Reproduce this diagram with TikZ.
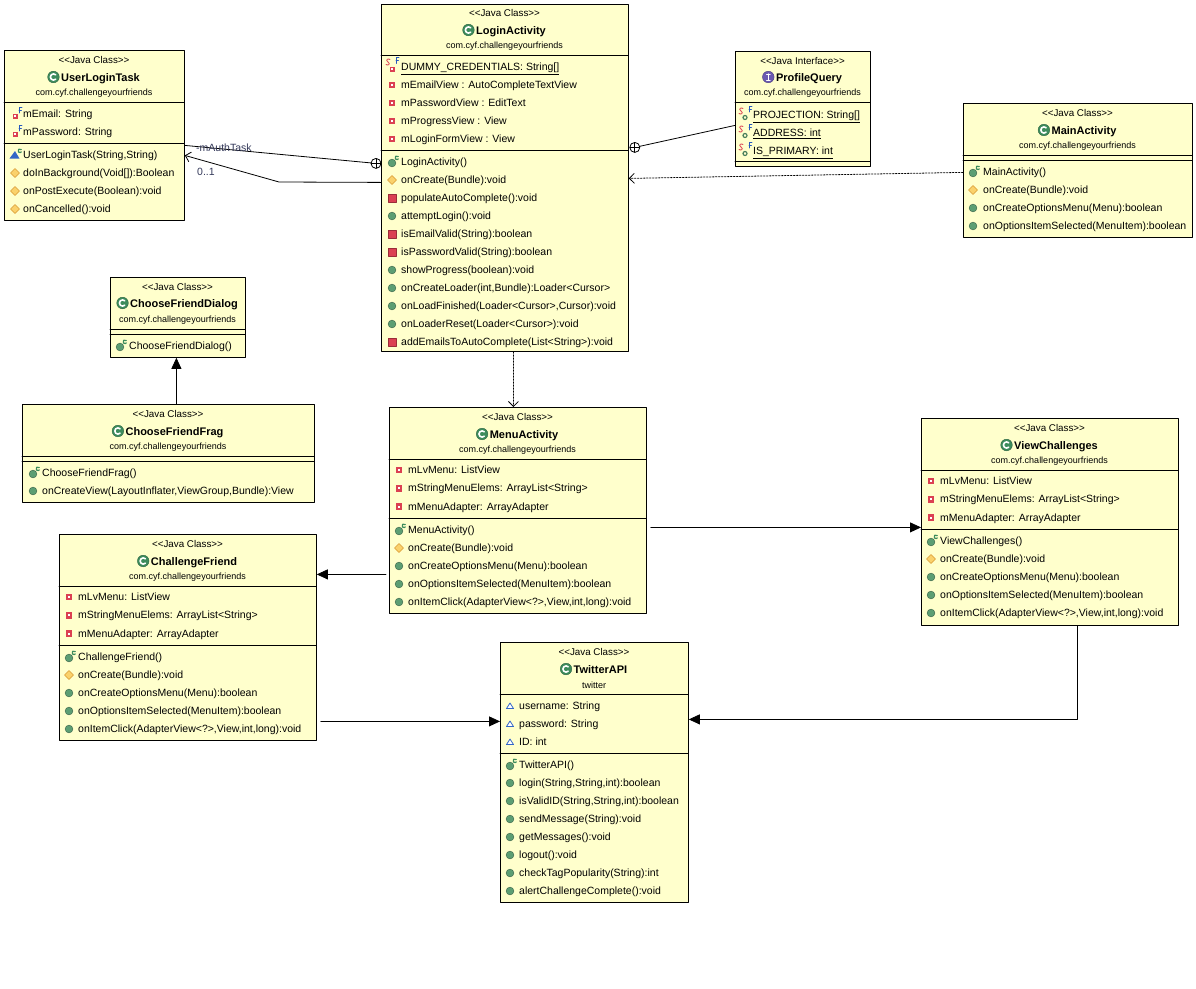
\documentclass[tikz,border=0pt]{standalone}
\usepackage{fontspec}
\setmainfont{Liberation Sans}[Ligatures=TeXOff]
\usetikzlibrary{arrows.meta,positioning}
\definecolor{classfill}{rgb}{1,1,0.8}
\definecolor{clsgreen}{rgb}{0.24,0.55,0.36}
\definecolor{pubgreen}{rgb}{0.36,0.62,0.45}
\definecolor{privred}{rgb}{0.86,0.25,0.32}
\definecolor{protyellow}{rgb}{0.98,0.82,0.42}
\definecolor{protorange}{rgb}{0.85,0.6,0.2}
\definecolor{pkgblue}{rgb}{0.2,0.4,0.78}
\definecolor{intpurp}{rgb}{0.42,0.35,0.7}
\definecolor{finblue}{rgb}{0.15,0.35,0.75}
\definecolor{labelgrey}{rgb}{0.2,0.22,0.35}

% member icons, #1 = where
\newcommand{\letterS}[1]{\draw[privred, line width=0.8pt, shift={(#1)}] (2,-2.5) .. controls (0,-4) and (-3,-2) .. (0,0) .. controls (3,2) and (0,4) .. (-2,2.5);}
\newcommand{\letterF}[1]{\draw[finblue, line width=0.8pt, shift={(#1)}] (0,3) -- (0,-3) -- (3,-3) (0,0) -- (2.5,0);}
\newcommand{\icoclass}[1]{\begin{scope}[shift={(#1)}]
  \fill[clsgreen, draw=clsgreen!70!black, line width=0.4pt] (0,0) circle (5.8pt);
  \draw[white, line width=1.6pt] (2.2,-2.2) arc (45:315:3.1pt);
\end{scope}}
\newcommand{\icoiface}[1]{\begin{scope}[shift={(#1)}]
  \fill[intpurp, draw=intpurp!70!black, line width=0.4pt] (0,0) circle (5.8pt);
  \draw[white, line width=1.4pt] (0,-3) -- (0,3);
  \draw[white, line width=0.9pt] (-1.8,-3) -- (1.8,-3) (-1.8,3) -- (1.8,3);
\end{scope}}
\newcommand{\icopub}[1]{\begin{scope}[shift={(#1)}]
  \fill[pubgreen, draw=pubgreen!60!black, line width=0.4pt] (0,0) circle (3.9pt);
\end{scope}}
\newcommand{\icoctor}[1]{\begin{scope}[shift={(#1)}]
  \fill[pubgreen, draw=pubgreen!60!black, line width=0.4pt] (0,1) circle (3.9pt);
  \draw[clsgreen, line width=1.2pt] (6.3,-5.5) arc (40:320:1.9pt);
\end{scope}}
\newcommand{\icopriv}[1]{\begin{scope}[shift={(#1)}]
  \fill[privred] (-3.2,-3.2) rectangle (3.2,3.2);
  \fill[white] (-1.1,-1.1) rectangle (1.1,1.1);
\end{scope}}
\newcommand{\icoprivm}[1]{\begin{scope}[shift={(#1)}]
  \fill[privred, draw=privred!70!black, line width=0.5pt] (-4,-4) rectangle (4,4);
\end{scope}}
\newcommand{\icoprot}[1]{\begin{scope}[shift={(#1)}]
  \filldraw[fill=protyellow, draw=protorange, line width=0.5pt] (-4.5,0) -- (0,-4.5) -- (4.5,0) -- (0,4.5) -- cycle;
\end{scope}}
\newcommand{\icopkg}[1]{\begin{scope}[shift={(#1)}]
  \filldraw[fill=white, draw=pkgblue, line width=0.8pt] (-3.5,2.5) -- (3.5,2.5) -- (0,-3) -- cycle;
\end{scope}}
\newcommand{\icopkgctor}[1]{\begin{scope}[shift={(#1)}]
  \fill[pkgblue] (-5.5,3.5) -- (4.5,3.5) -- (0,-4) -- cycle;
  \draw[clsgreen, line width=1.2pt] (6.3,-5.5) arc (40:320:1.9pt);
\end{scope}}
\newcommand{\icofinpriv}[1]{\begin{scope}[shift={(#1)}]
  \fill[privred] (-2.5,-0.5) rectangle (2.5,4.5);
  \fill[white] (-0.8,1.2) rectangle (0.8,2.8);
  \letterF{4,-4}
\end{scope}}
\newcommand{\icosfpriv}[1]{\begin{scope}[shift={(#1)}]
  \letterS{-4,-5}
  \letterF{4,-6.5}
  \fill[privred] (-2.5,-0.5) rectangle (2.5,4.5);
  \fill[white] (-0.8,1.2) rectangle (0.8,2.8);
\end{scope}}
\newcommand{\icosfpub}[1]{\begin{scope}[shift={(#1)}]
  \letterS{-4,-4}
  \letterF{4,-6}
  \draw[pubgreen!80!black, line width=1.2pt] (0,2.5) circle (2pt);
\end{scope}}

\tikzset{
  classbox/.style={draw, fill=classfill, line width=0.8pt, inner sep=0pt, anchor=north west},
  compline/.style={line width=0.8pt},
  stereo/.style={font=\fontsize{9.8}{11}\selectfont, inner sep=0pt},
  cname/.style={font=\fontsize{11}{13}\selectfont\bfseries, inner sep=0pt, text height=8pt, text depth=0pt},
  pkg/.style={font=\fontsize{9}{11}\selectfont, inner sep=0pt},
  member/.style={font=\fontsize{10.5}{12}\selectfont, anchor=west, inner sep=0pt, text height=8pt, text depth=1pt},
  rolelabel/.style={font=\fontsize{10.5}{12}\selectfont, text=labelgrey, anchor=west, inner sep=0pt},
  nestmark/.style={circle, draw, line width=0.8pt, fill=white, minimum size=10pt, inner sep=0pt,
    path picture={\draw[line width=0.8pt] (path picture bounding box.north) -- (path picture bounding box.south)
      (path picture bounding box.west) -- (path picture bounding box.east);}},
  dep/.style={line width=0.8pt, dash pattern=on 1.5pt off 1.5pt, -{Straight Barb[length=5pt,width=10pt]}},
  nav/.style={line width=0.8pt, -{Straight Barb[length=5pt,width=10pt]}},
  assoc/.style={line width=0.8pt, -{Triangle[length=11pt,width=10pt]}},
}

\begin{document}
\begin{tikzpicture}[x=1pt,y=-1pt,line cap=round,line join=round]
	\useasboundingbox (0,0) rectangle (1196,988);

	% UserLoginTask
	\node[classbox, minimum width=180pt, minimum height=170pt] (userlogin) at (4,50) {};
	\node[stereo] (userlogin-st) at (94,60) {<<Java Class>>};
	\node[cname] (userlogin-nm) at (100.5,77) {UserLoginTask};
	\icoclass{[xshift=-7.5pt]userlogin-nm.west}
	\node[pkg] (userlogin-pk) at (94,93) {com.cyf.challengeyourfriends};
	\draw[compline] (4,102) -- (184,102) (4,143) -- (184,143);
	\foreach \ic/\t [count=\i] in {finpriv/mEmail: String,finpriv/mPassword: String}{
		\pgfmathsetmacro\yy{114+18*(\i-1)}
		\csname ico\ic\endcsname{15,\yy}
		\node[member] (userlogin-f\i) at (23,\yy) {\t};
	}
	\foreach \ic/\t [count=\i] in {%
		pkgctor/{UserLoginTask(String,String)},%
		prot/doInBackground(Void[]):Boolean,%
		prot/onPostExecute(Boolean):void,%
		prot/onCancelled():void}{
		\pgfmathsetmacro\yy{155+18*(\i-1)}
		\csname ico\ic\endcsname{15,\yy}
		\node[member] (userlogin-m\i) at (23,\yy) {\t};
	}

	% LoginActivity
	\node[classbox, minimum width=247pt, minimum height=347pt] (login) at (381,4) {};
	\node[stereo] (login-st) at (504.5,13) {<<Java Class>>};
	\node[cname] (login-nm) at (511,30) {LoginActivity};
	\icoclass{[xshift=-7.5pt]login-nm.west}
	\node[pkg] (login-pk) at (504.5,46) {com.cyf.challengeyourfriends};
	\draw[compline] (381,55) -- (628,55) (381,150) -- (628,150);
	\foreach \ic/\t [count=\i] in {%
		sfpriv/\underline{DUMMY\_CREDENTIALS: String[]},%
		priv/mEmailView : AutoCompleteTextView,%
		priv/mPasswordView : EditText,%
		priv/mProgressView : View,%
		priv/mLoginFormView : View}{
		\pgfmathsetmacro\yy{67+18*(\i-1)}
		\csname ico\ic\endcsname{392,\yy}
		\node[member] (login-f\i) at (401,\yy) {\t};
	}
	\foreach \ic/\t [count=\i] in {%
		ctor/LoginActivity(),%
		prot/onCreate(Bundle):void,%
		privm/populateAutoComplete():void,%
		pub/attemptLogin():void,%
		privm/isEmailValid(String):boolean,%
		privm/isPasswordValid(String):boolean,%
		pub/showProgress(boolean):void,%
		pub/{onCreateLoader(int,Bundle):Loader<Cursor>},%
		pub/{onLoadFinished(Loader<Cursor>,Cursor):void},%
		pub/onLoaderReset(Loader<Cursor>):void,%
		privm/addEmailsToAutoComplete(List<String>):void}{
		\pgfmathsetmacro\yy{162+18*(\i-1)}
		\csname ico\ic\endcsname{392,\yy}
		\node[member] (login-m\i) at (401,\yy) {\t};
	}

	% ProfileQuery
	\node[classbox, minimum width=135pt, minimum height=115pt] (profile) at (735,51) {};
	\node[stereo] (profile-st) at (802.5,61) {<<Java Interface>>};
	\node[cname] (profile-nm) at (809,77) {ProfileQuery};
	\icoiface{[xshift=-7.5pt]profile-nm.west}
	\node[pkg] (profile-pk) at (802.5,93) {com.cyf.challengeyourfriends};
	\draw[compline] (735,102) -- (870,102) (735,161) -- (870,161);
	\foreach \ic/\t [count=\i] in {%
		sfpub/\underline{PROJECTION: String[]},%
		sfpub/\underline{ADDRESS: int},%
		sfpub/\underline{IS\_PRIMARY: int}}{
		\pgfmathsetmacro\yy{115+18*(\i-1)}
		\csname ico\ic\endcsname{745,\yy}
		\node[member] (profile-f\i) at (753,\yy) {\t};
	}

	% MainActivity
	\node[classbox, minimum width=229pt, minimum height=134pt] (mainact) at (963,103) {};
	\node[stereo] (mainact-st) at (1077.5,113) {<<Java Class>>};
	\node[cname] (mainact-nm) at (1084,130) {MainActivity};
	\icoclass{[xshift=-7.5pt]mainact-nm.west}
	\node[pkg] (mainact-pk) at (1077.5,146) {com.cyf.challengeyourfriends};
	\draw[compline] (963,155) -- (1192,155) (963,160) -- (1192,160);
	\foreach \ic/\t [count=\i] in {%
		ctor/MainActivity(),%
		prot/onCreate(Bundle):void,%
		pub/onCreateOptionsMenu(Menu):boolean,%
		pub/onOptionsItemSelected(MenuItem):boolean}{
		\pgfmathsetmacro\yy{172+18*(\i-1)}
		\csname ico\ic\endcsname{973,\yy}
		\node[member] (mainact-m\i) at (983,\yy) {\t};
	}

	% ChooseFriendDialog
	\node[classbox, minimum width=135pt, minimum height=80pt] (dialog) at (110,277) {};
	\node[stereo] (dialog-st) at (177.5,287) {<<Java Class>>};
	\node[cname] (dialog-nm) at (184,303) {ChooseFriendDialog};
	\icoclass{[xshift=-7.5pt]dialog-nm.west}
	\node[pkg] (dialog-pk) at (177.5,320) {com.cyf.challengeyourfriends};
	\draw[compline] (110,329) -- (245,329) (110,334) -- (245,334);
	\icoctor{120,346}
	\node[member] (dialog-m1) at (129,346) {ChooseFriendDialog()};

	% ChooseFriendFrag
	\node[classbox, minimum width=292pt, minimum height=98pt] (frag) at (22,404) {};
	\node[stereo] (frag-st) at (168,414) {<<Java Class>>};
	\node[cname] (frag-nm) at (174.5,431) {ChooseFriendFrag};
	\icoclass{[xshift=-7.5pt]frag-nm.west}
	\node[pkg] (frag-pk) at (168,447) {com.cyf.challengeyourfriends};
	\draw[compline] (22,456) -- (314,456) (22,461) -- (314,461);
	\foreach \ic/\t [count=\i] in {%
		ctor/ChooseFriendFrag(),%
		pub/{onCreateView(LayoutInflater,ViewGroup,Bundle):View}}{
		\pgfmathsetmacro\yy{473+18*(\i-1)}
		\csname ico\ic\endcsname{33,\yy}
		\node[member] (frag-m\i) at (42,\yy) {\t};
	}

	% MenuActivity
	\node[classbox, minimum width=257pt, minimum height=206pt] (menu) at (389,407) {};
	\node[stereo] (menu-st) at (517.5,417) {<<Java Class>>};
	\node[cname] (menu-nm) at (524,434) {MenuActivity};
	\icoclass{[xshift=-7.5pt]menu-nm.west}
	\node[pkg] (menu-pk) at (517.5,450) {com.cyf.challengeyourfriends};
	\draw[compline] (389,459) -- (646,459) (389,518) -- (646,518);
	\foreach \ic/\t [count=\i] in {%
		priv/mLvMenu: ListView,%
		priv/mStringMenuElems: ArrayList<String>,%
		priv/mMenuAdapter: ArrayAdapter}{
		\pgfmathsetmacro\yy{470+18.3*(\i-1)}
		\csname ico\ic\endcsname{399,\yy}
		\node[member] (menu-f\i) at (408,\yy) {\t};
	}
	\foreach \ic/\t [count=\i] in {%
		ctor/MenuActivity(),%
		prot/onCreate(Bundle):void,%
		pub/onCreateOptionsMenu(Menu):boolean,%
		pub/onOptionsItemSelected(MenuItem):boolean,%
		pub/{onItemClick(AdapterView<?>,View,int,long):void}}{
		\pgfmathsetmacro\yy{530+18*(\i-1)}
		\csname ico\ic\endcsname{399,\yy}
		\node[member] (menu-m\i) at (408,\yy) {\t};
	}

	% ViewChallenges
	\node[classbox, minimum width=257pt, minimum height=207pt] (viewch) at (921,418) {};
	\node[stereo] (viewch-st) at (1049.5,428) {<<Java Class>>};
	\node[cname] (viewch-nm) at (1056,445) {ViewChallenges};
	\icoclass{[xshift=-7.5pt]viewch-nm.west}
	\node[pkg] (viewch-pk) at (1049.5,461) {com.cyf.challengeyourfriends};
	\draw[compline] (921,470) -- (1178,470) (921,529) -- (1178,529);
	\foreach \ic/\t [count=\i] in {%
		priv/mLvMenu: ListView,%
		priv/mStringMenuElems: ArrayList<String>,%
		priv/mMenuAdapter: ArrayAdapter}{
		\pgfmathsetmacro\yy{481+18.3*(\i-1)}
		\csname ico\ic\endcsname{931,\yy}
		\node[member] (viewch-f\i) at (940,\yy) {\t};
	}
	\foreach \ic/\t [count=\i] in {%
		ctor/ViewChallenges(),%
		prot/onCreate(Bundle):void,%
		pub/onCreateOptionsMenu(Menu):boolean,%
		pub/onOptionsItemSelected(MenuItem):boolean,%
		pub/{onItemClick(AdapterView<?>,View,int,long):void}}{
		\pgfmathsetmacro\yy{541+18*(\i-1)}
		\csname ico\ic\endcsname{931,\yy}
		\node[member] (viewch-m\i) at (940,\yy) {\t};
	}

	% ChallengeFriend
	\node[classbox, minimum width=257pt, minimum height=206pt] (chfriend) at (59,534) {};
	\node[stereo] (chfriend-st) at (187.5,544) {<<Java Class>>};
	\node[cname] (chfriend-nm) at (194,561) {ChallengeFriend};
	\icoclass{[xshift=-7.5pt]chfriend-nm.west}
	\node[pkg] (chfriend-pk) at (187.5,577) {com.cyf.challengeyourfriends};
	\draw[compline] (59,586) -- (316,586) (59,645) -- (316,645);
	\foreach \ic/\t [count=\i] in {%
		priv/mLvMenu: ListView,%
		priv/mStringMenuElems: ArrayList<String>,%
		priv/mMenuAdapter: ArrayAdapter}{
		\pgfmathsetmacro\yy{597+18.3*(\i-1)}
		\csname ico\ic\endcsname{69,\yy}
		\node[member] (chfriend-f\i) at (78,\yy) {\t};
	}
	\foreach \ic/\t [count=\i] in {%
		ctor/ChallengeFriend(),%
		prot/onCreate(Bundle):void,%
		pub/onCreateOptionsMenu(Menu):boolean,%
		pub/onOptionsItemSelected(MenuItem):boolean,%
		pub/{onItemClick(AdapterView<?>,View,int,long):void}}{
		\pgfmathsetmacro\yy{657+18*(\i-1)}
		\csname ico\ic\endcsname{69,\yy}
		\node[member] (chfriend-m\i) at (78,\yy) {\t};
	}

	% TwitterAPI
	\node[classbox, minimum width=188pt, minimum height=260pt] (twitter) at (500,642) {};
	\node[stereo] (twitter-st) at (594,652) {<<Java Class>>};
	\node[cname] (twitter-nm) at (600.5,669) {TwitterAPI};
	\icoclass{[xshift=-7.5pt]twitter-nm.west}
	\node[pkg] (twitter-pk) at (594,685) {twitter};
	\draw[compline] (500,694) -- (688,694) (500,753) -- (688,753);
	\foreach \ic/\t [count=\i] in {%
		pkg/username: String,%
		pkg/password: String,%
		pkg/ID: int}{
		\pgfmathsetmacro\yy{706+18*(\i-1)}
		\csname ico\ic\endcsname{510,\yy}
		\node[member] (twitter-f\i) at (519,\yy) {\t};
	}
	\foreach \ic/\t [count=\i] in {%
		ctor/TwitterAPI(),%
		pub/{login(String,String,int):boolean},%
		pub/{isValidID(String,String,int):boolean},%
		pub/sendMessage(String):void,%
		pub/getMessages():void,%
		pub/logout():void,%
		pub/checkTagPopularity(String):int,%
		pub/alertChallengeComplete():void}{
		\pgfmathsetmacro\yy{765+18*(\i-1)}
		\csname ico\ic\endcsname{510,\yy}
		\node[member] (twitter-m\i) at (519,\yy) {\t};
	}

	% inner classes of LoginActivity
	\node[nestmark] (nest-task) at ([xshift=-5pt,yshift=14.5pt]login.west) {};
	\draw[compline] ([yshift=-10pt]userlogin.east) -- (nest-task);
	\node[nestmark] (nest-query) at ([xshift=6pt,yshift=30.5pt]login.east) {};
	\draw[compline] ([yshift=-16.5pt]profile.west) -- (nest-query);

	% mAuthTask
	\coordinate (authbend) at (279,182);
	\draw[nav] ([yshift=-4.5pt]login.west) -- (authbend) -- ([yshift=-20pt]userlogin.east);
	\node[rolelabel] (authrole) at (196,148) {-mAuthTask};
	\node[rolelabel] (authmult) at (197,172) {0..1};

	% dependencies
	\draw[dep] ([yshift=-2pt]mainact.west) -- ([yshift=-0.5pt]login.east);
	\draw[dep] ([xshift=8.5pt]login.south) -- ([xshift=-4.5pt]menu.north);

	% associations
	\draw[assoc] ([xshift=8pt]frag.north) -- ([xshift=-1.5pt]dialog.south);
	\draw[assoc] ([xshift=4pt,yshift=-17pt]menu.east) -- ([yshift=-5.5pt]viewch.west);
	\draw[assoc] ([xshift=-3pt,yshift=-64pt]menu.west) -- ([yshift=63pt]chfriend.east);
	\draw[assoc] ([xshift=4pt,yshift=-84pt]chfriend.east) -- ([yshift=51pt]twitter.west);
	\draw[assoc] ([xshift=27.5pt]viewch.south) |- ([yshift=53pt]twitter.east);

\end{tikzpicture}
\end{document}
